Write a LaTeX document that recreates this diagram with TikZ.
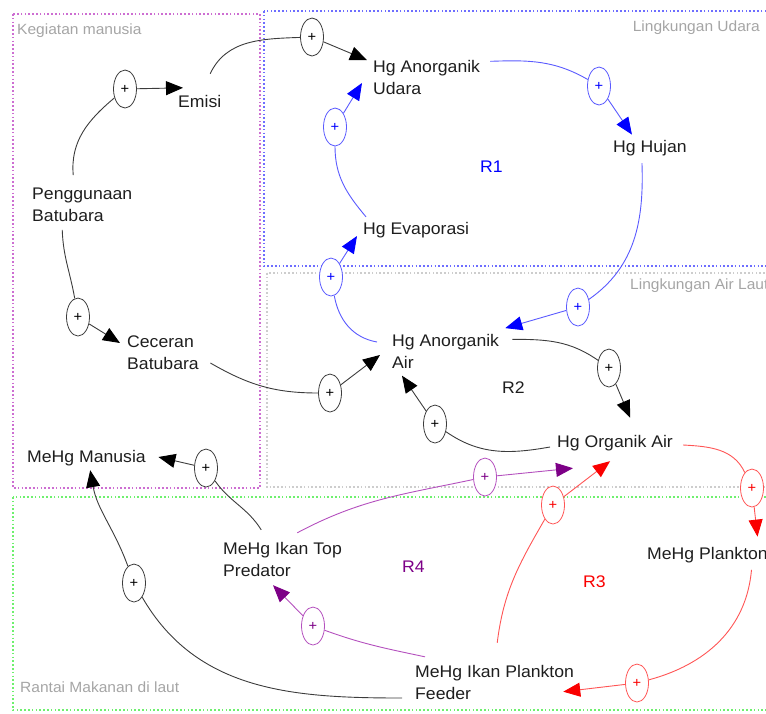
\documentclass[tikz,border=0pt]{standalone}
\usepackage{fontspec}
\setmainfont{Liberation Sans}[FakeStretch=1.05]
\usetikzlibrary{shapes.geometric,arrows.meta}

\definecolor{linkgray}{RGB}{60,60,60}
\definecolor{linkblue}{RGB}{90,90,255}
\definecolor{headblue}{RGB}{0,0,255}
\definecolor{linkred}{RGB}{255,85,85}
\definecolor{headred}{RGB}{250,0,0}
\definecolor{linkpurple}{RGB}{180,80,190}
\definecolor{headpurple}{RGB}{125,0,135}
\definecolor{boxmagenta}{RGB}{205,110,210}
\definecolor{boxblue}{RGB}{110,110,255}
\definecolor{boxgray}{RGB}{205,205,205}
\definecolor{boxgreen}{RGB}{110,240,110}
\definecolor{labelgray}{RGB}{165,165,165}
\definecolor{textgray}{RGB}{30,30,30}

\tikzset{
  var/.style={anchor=west, inner sep=0pt, align=left, text depth=3.6pt,
    text=textgray, font=\fontsize{16.8}{22}\selectfont},
  sector/.style={dash pattern=on 1.6pt off 2.2pt, line width=1.3pt},
  sectorlabel/.style={anchor=base west, inner sep=0pt, text=labelgray,
    font=\fontsize{14.8}{18}\selectfont},
  looplabel/.style={anchor=base west, inner sep=0pt,
    font=\fontsize{16.8}{22}\selectfont},
  pol/.style={draw, fill=white, ellipse, minimum width=23pt, minimum height=38pt,
    inner sep=0pt, line width=0.8pt, font=\fontsize{14}{14}\selectfont},
  link/.style={line width=0.9pt},
  blk/.style={link, draw=linkgray, -{Triangle[length=17pt,width=14pt,color=black]}},
  blkline/.style={link, draw=linkgray},
  blu/.style={link, draw=linkblue, -{Triangle[length=17pt,width=14pt,color=headblue]}},
  bluline/.style={link, draw=linkblue},
  rd/.style={link, draw=linkred, -{Triangle[length=17pt,width=14pt,color=headred]}},
  rdline/.style={link, draw=linkred},
  pur/.style={link, draw=linkpurple, -{Triangle[length=17pt,width=14pt,color=headpurple]}},
  purline/.style={link, draw=linkpurple},
}

\begin{document}
\begin{tikzpicture}[x=1pt, y=-1pt]
\useasboundingbox (0,0) rectangle (766,713);

% sector boundaries
\draw[sector, boxgray] (267,273) rectangle (775,487);
\draw[sector, boxblue] (264,11) rectangle (775,266);
\draw[sector, boxmagenta] (13,14) rectangle (260,488);
\draw[sector, boxgreen] (13,497) rectangle (775,710);

\node[sectorlabel] (lblkeg) at (17,34) {Kegiatan manusia};
\node[sectorlabel, anchor=base east] (lblud) at (760,31) {Lingkungan Udara};
\node[sectorlabel] (lblair) at (630,289) {Lingkungan Air Laut};
\node[sectorlabel] (lblrantai) at (20,692) {Rantai Makanan di laut};

% variables
\node[var] (emisi)   at (178,103.7) {Emisi};
\node[var] (peng)    at (32,206.7)  {Penggunaan\\Batubara};
\node[var] (cec)     at (127,354.7) {Ceceran\\Batubara};
\node[var] (hgau)    at (373,79.2)  {Hg Anorganik\\Udara};
\node[var] (hujan)   at (613,148.7) {Hg Hujan};
\node[var] (evap)    at (363,230.7) {Hg Evaporasi};
\node[var] (hgaa)    at (392,353.2) {Hg Anorganik\\Air};
\node[var] (hgoa)    at (557,443.7) {Hg Organik Air};
\node[var] (manusia) at (27,458.7)  {MeHg Manusia};
\node[var] (topp)    at (223,561.7) {MeHg Ikan Top\\Predator};
\node[var] (plank)   at (647,555.7) {MeHg Plankton};
\node[var] (feeder)  at (415,684.7) {MeHg Ikan Plankton\\Feeder};

% loop identifiers
\node[looplabel, text=headblue]   (r1) at (480,172) {R1};
\node[looplabel, text=textgray]   (r2) at (502,393) {R2};
\node[looplabel, text=headred]    (r3) at (583,587) {R3};
\node[looplabel, text=headpurple] (r4) at (402,572) {R4};

% polarity markers
\node[pol, draw=linkgray]   (p1)  at (125,89)  {+};
\node[pol, draw=linkgray]   (p2)  at (312,37)  {+};
\node[pol, draw=linkgray]   (p3)  at (78,317)  {+};
\node[pol, draw=linkgray]   (p4)  at (330,393) {+};
\node[pol, draw=linkblue, text=headblue]   (p5)  at (331,277) {+};
\node[pol, draw=linkblue, text=headblue]   (p6)  at (335,127) {+};
\node[pol, draw=linkblue, text=headblue]   (p7)  at (599,86)  {+};
\node[pol, draw=linkblue, text=headblue]   (p8)  at (578,307) {+};
\node[pol, draw=linkgray]   (p9)  at (609,368) {+};
\node[pol, draw=linkgray]   (p10) at (435,424) {+};
\node[pol, draw=linkred, text=headred]    (p11) at (752,488) {+};
\node[pol, draw=linkred, text=headred]    (p12) at (637,683) {+};
\node[pol, draw=linkred, text=headred]    (p13) at (553,505) {+};
\node[pol, draw=linkpurple, text=headpurple] (p14) at (313,626) {+};
\node[pol, draw=linkpurple, text=headpurple] (p15) at (485,477) {+};
\node[pol, draw=linkgray]   (p16) at (206,468) {+};
\node[pol, draw=linkgray]   (p17) at (134,583) {+};

% causal links: human activity
\draw[blkline] ([shift={(-9,-12.8)}]peng.north) to[out=95,in=220] (p1);
\draw[blk] (p1) -- ([shift={(5,-7.8)}]emisi.north west);
\draw[blkline] ([shift={(10.4,-21.8)}]emisi.north) to[out=65,in=182] (p2);
\draw[blk] (p2) -- ([shift={(-6,0)}]hgau.north west);
\draw[blkline] ([shift={(-20,4.4)}]peng.south) to[out=-88,in=100] (p3);
\draw[blk] (p3) -- ([shift={(-7,-11.7)}]cec.west);
\draw[blkline] ([shift={(11.4,8.3)}]cec.east) to[out=-30,in=180] (p4);
\draw[blk] (p4) -- ([shift={(-12,1.8)}]hgaa.west);

% loop R1
\draw[bluline] ([shift={(-15,-11.2)}]hgaa.west) to[out=170,in=-80] (p5);
\draw[blu] (p5) -- ([shift={(-6,5.3)}]evap.west);
\draw[bluline] ([shift={(3,-5.8)}]evap.north west) to[out=130,in=-90] (p6);
\draw[blu] (p6) -- ([shift={(-11,3.8)}]hgau.west);
\draw[bluline] ([shift={(10,1.2)}]hgau.north east) to[out=2,in=150] (p7);
\draw[blu] (p7) -- ([shift={(-18,-6)}]hujan.north);
\draw[bluline] ([shift={(-8,6.4)}]hujan.south) to[out=-88,in=35] (p8);
\draw[blu] (p8) -- ([shift={(6,-6)}]hgaa.north east);

% loop R2
\draw[blkline] ([shift={(13,5.2)}]hgaa.north east) to[out=0,in=145] (p9);
\draw[blk] (p9) -- ([shift={(15,-18)}]hgoa.north);
\draw[blkline] ([shift={(-7,3.3)}]hgoa.west) to[out=190,in=-35] (p10);
\draw[blk] (p10) -- ([shift={(10,3.4)}]hgaa.south west);

% loop R3
\draw[rdline] ([shift={(10,1.3)}]hgoa.east) to[out=-3,in=115] (p11);
\draw[rd] (p11) -- ([shift={(50,-11)}]plank.north);
\draw[rdline] ([shift={(44,6)}]plank.south) to[out=-95,in=15] (p12);
\draw[rd] (p12) -- ([shift={(-11,7)}]feeder.east);
\draw[rdline] ([shift={(2.6,-22.8)}]feeder.north) to[out=83,in=-120] (p13);
\draw[rd] (p13) -- ([shift={(-5,9.4)}]hgoa.south);

% loop R4
\draw[purline] ([shift={(10,-8.8)}]feeder.north west) to[out=168,in=-20] (p14);
\draw[pur] (p14) -- ([shift={(50,4.4)}]topp.south west);
\draw[purline] ([shift={(14.7,-9.8)}]topp.north) to[out=28,in=192] (p15);
\draw[pur] (p15) -- ([shift={(16,16.4)}]hgoa.south west);

% exposure of humans
\draw[blkline] ([shift={(-21.3,-12.8)}]topp.north) to[out=122,in=-55] (p16);
\draw[blk] (p16) -- ([shift={(12.4,-1.7)}]manusia.east);
\draw[blkline] ([shift={(-13,13.3)}]feeder.west) to[out=180,in=-60] (p17);
\draw[blk] (p17) to[out=110,in=-80] ([shift={(3.7,3.4)}]manusia.south);
\end{tikzpicture}
\end{document}
